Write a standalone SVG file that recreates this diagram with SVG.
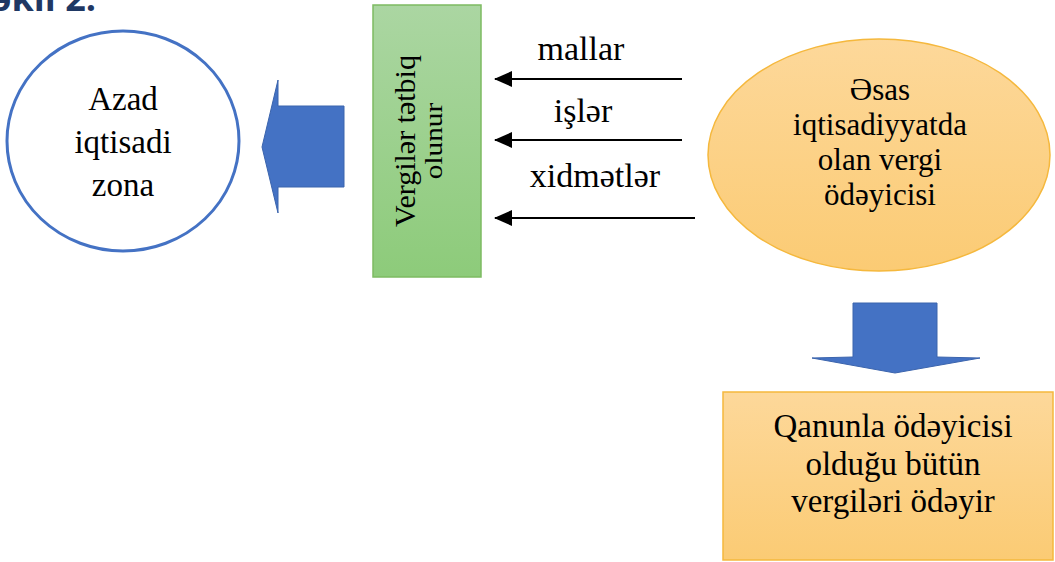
<svg xmlns="http://www.w3.org/2000/svg" width="1055" height="562" viewBox="0 0 1055 562">
  <style>
    .lbl { font-family: "Liberation Serif", "DejaVu Serif", "Times New Roman", serif; fill: #000; text-anchor: middle; }
    .conn { stroke: #000; stroke-width: 2.2; fill: none; marker-end: url(#arrowHead); }
    .block { fill: #4472c4; stroke: #3b64ad; stroke-width: 1; }
  </style>
  <defs>
    <marker id="arrowHead" markerWidth="18" markerHeight="16" refX="17" refY="8" orient="auto" markerUnits="userSpaceOnUse" viewBox="0 0 18 16">
      <path d="M0,0 L18,8 L0,16 Z" fill="#000"/>
    </marker>
    <linearGradient id="greenFill" x1="0" y1="0" x2="0" y2="1">
      <stop offset="0" stop-color="#abd6a2"/>
      <stop offset="1" stop-color="#8dcb7a"/>
    </linearGradient>
    <linearGradient id="orangeFill" x1="0" y1="0" x2="0" y2="1">
      <stop offset="0" stop-color="#fdd89a"/>
      <stop offset="1" stop-color="#fbcb74"/>
    </linearGradient>
  </defs>

  <!-- figure caption, clipped by the top edge -->
  <text x="96" y="11" font-family="Open Sans, sans-serif" font-weight="bold" font-size="36" fill="#1f3864" text-anchor="end">Şəkil 2.</text>

  <g id="free-zone">
    <ellipse cx="123" cy="141" rx="116" ry="110" fill="#fff" stroke="#4472c4" stroke-width="3"/>
    <text class="lbl" font-size="33" x="123" y="110">Azad</text>
    <text class="lbl" font-size="33" x="123" y="153">iqtisadi</text>
    <text class="lbl" font-size="33" x="123" y="196">zona</text>
  </g>

  <g id="arrow-left">
    <polygon class="block" points="344,106 278,106 278,80 262,147 278,213 278,187 344,187"/>
  </g>

  <g id="taxes-applied">
    <rect x="373" y="5" width="108" height="272" fill="url(#greenFill)" stroke="#7dbb62" stroke-width="1.5"/>
    <g transform="translate(427,141) rotate(-90)">
      <text class="lbl" font-size="30" x="0" y="-12">Vergilər tətbiq</text>
      <text class="lbl" font-size="25" x="0" y="15" transform="scale(1.17,1)">olunur</text>
    </g>
  </g>

  <g id="main-taxpayer">
    <ellipse cx="879" cy="155" rx="171" ry="116" fill="url(#orangeFill)" stroke="#f5b83d" stroke-width="1.5"/>
    <text class="lbl" font-size="31" x="880" y="100">Əsas</text>
    <text class="lbl" font-size="31" x="880" y="135">iqtisadiyyatda</text>
    <text class="lbl" font-size="31" x="880" y="170">olan vergi</text>
    <text class="lbl" font-size="31" x="880" y="205">ödəyicisi</text>
  </g>

  <g id="arrow-down">
    <polygon class="block" points="853,303 937,303 937,357 980,358 895,373 812,358 853,357"/>
  </g>

  <g id="pays-all-taxes">
    <rect x="723" y="392" width="330" height="168" fill="url(#orangeFill)" stroke="#f5b83d" stroke-width="1.5"/>
    <text class="lbl" font-size="33" x="893" y="437">Qanunla ödəyicisi</text>
    <text class="lbl" font-size="33" x="893" y="475">olduğu bütün</text>
    <text class="lbl" font-size="33" x="893" y="512">vergiləri ödəyir</text>
  </g>

  <g id="connectors">
    <line class="conn" x1="682" y1="79" x2="495" y2="79"/>
    <line class="conn" x1="682" y1="140" x2="495" y2="140"/>
    <line class="conn" x1="695" y1="218" x2="495" y2="218"/>
    <text class="lbl" font-size="34" x="581" y="60">mallar</text>
    <text class="lbl" font-size="34" x="583" y="122">işlər</text>
    <text class="lbl" font-size="34" x="595" y="187">xidmətlər</text>
  </g>
</svg>
